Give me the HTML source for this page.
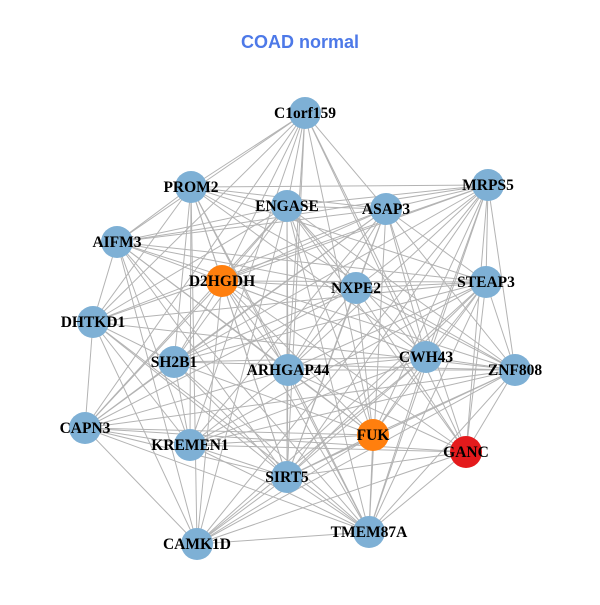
<!DOCTYPE html>
<html><head><meta charset="utf-8"><style>html,body{margin:0;padding:0;background:#fff}</style></head>
<body>
<svg id="s" width="600" height="600" xmlns="http://www.w3.org/2000/svg">
<rect width="600" height="600" fill="#fff"/>
<text x="300" y="48" text-anchor="middle" font-family="Liberation Sans, sans-serif" font-weight="bold" font-size="18" fill="#4d79e8">COAD normal</text>
<g id="e" stroke="#b3b3b3" stroke-width="1"></g>
<g id="n"></g>
</svg>
<script>
var N=[["C1orf159",305,113,"#7eb0d5"],["PROM2",191,187,"#7eb0d5"],["ENGASE",287,206,"#7eb0d5"],["ASAP3",386,209,"#7eb0d5"],["MRPS5",488,185,"#7eb0d5"],["AIFM3",117,242,"#7eb0d5"],["D2HGDH",222,281,"#ff7f0e"],["NXPE2",356,288,"#7eb0d5"],["STEAP3",486,282,"#7eb0d5"],["DHTKD1",93,322,"#7eb0d5"],["SH2B1",174,362,"#7eb0d5"],["ARHGAP44",288,370,"#7eb0d5"],["CWH43",426,357,"#7eb0d5"],["ZNF808",515,370,"#7eb0d5"],["CAPN3",85,428,"#7eb0d5"],["KREMEN1",190,445,"#7eb0d5"],["FUK",373,435,"#ff7f0e"],["GANC",466,452,"#e41a1c"],["SIRT5",287,477,"#7eb0d5"],["CAMK1D",197,544,"#7eb0d5"],["TMEM87A",369,532,"#7eb0d5"]];
var ns="http://www.w3.org/2000/svg",E=document.getElementById("e"),G=document.getElementById("n");
var seed=7;function r(){seed=(seed*1103515245+12345)%2147483648;return seed/2147483648;}
for(var i=0;i<N.length;i++)for(var j=i+1;j<N.length;j++){
 var dx=N[i][1]-N[j][1],dy=N[i][2]-N[j][2],d=Math.sqrt(dx*dx+dy*dy);
 var p=d>380?0.3:0.82;
 if(r()<p){var l=document.createElementNS(ns,"line");l.setAttribute("x1",N[i][1]);l.setAttribute("y1",N[i][2]);l.setAttribute("x2",N[j][1]);l.setAttribute("y2",N[j][2]);E.appendChild(l);}
}
N.forEach(function(a){var c=document.createElementNS(ns,"circle");c.setAttribute("cx",a[1]);c.setAttribute("cy",a[2]);c.setAttribute("r",16);c.setAttribute("fill",a[3]);G.appendChild(c);});
N.forEach(function(a){var t=document.createElementNS(ns,"text");t.setAttribute("x",a[1]);t.setAttribute("y",a[2]+5);t.setAttribute("text-anchor","middle");t.setAttribute("font-family","Liberation Serif, serif");t.setAttribute("font-weight","bold");t.setAttribute("font-size","15.5");t.textContent=a[0];G.appendChild(t);});
</script>
</body></html>
